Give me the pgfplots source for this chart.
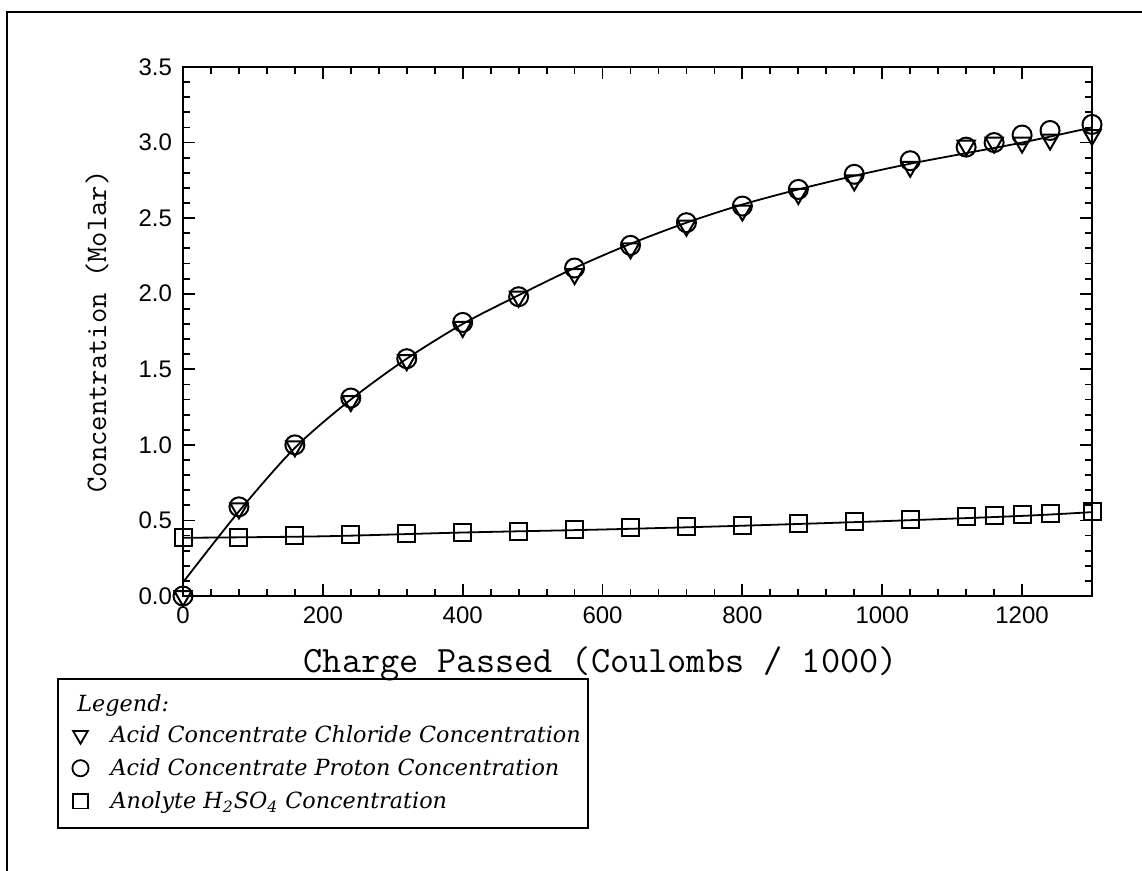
\documentclass[border=0pt]{standalone}
\usepackage{fontspec}
\setmainfont{Liberation Sans}
\newfontfamily\legfont{DejaVu Serif}
\usepackage{pgfplots}
\pgfplotsset{compat=1.18}
\begin{document}
\begin{tikzpicture}
\begin{axis}[
  at={(91.5pt,-298pt)}, anchor=south west,
  scale only axis, width=454.5pt, height=264.5pt,
  xmin=0, xmax=1300, ymin=0, ymax=3.5,
  clip=false,
  axis line style={line width=1.2pt},
  every tick/.style={black, line width=0.9pt},
  tick align=inside,
  major tick length=6pt, minor tick length=3.5pt,
  xtick={0,200,...,1200}, ytick={0,0.5,...,3.5},
  minor x tick num=4, minor y tick num=4,
  tick label style={font=\fontsize{12}{14}\selectfont},
  /pgf/number format/assume math mode=true,
  x tick label style={/pgf/number format/1000 sep={}, yshift=-2pt},
  y tick label style={/pgf/number format/fixed, /pgf/number format/fixed zerofill, /pgf/number format/precision=1, xshift=-2pt},
  every axis x label/.style={at={(rel axis cs:0.4595,-0.1437)}, anchor=base, font=\ttfamily\fontsize{18.6}{21}\selectfont},
  every axis y label/.style={at={(rel axis cs:-0.0946,0.5)}, rotate=90, anchor=center, font=\ttfamily\fontsize{14.9}{17}\selectfont},
  xlabel={Charge Passed (Coulombs / 1000)},
  ylabel={Concentration (Molar)},
  legend style={draw=none, fill=none, inner sep=0pt, row sep=0pt, column sep=0pt,
    font=\legfont\itshape\fontsize{11.15}{13}\selectfont,
    nodes={inner sep=0pt, text height=9.5pt, text depth=7pt, anchor=base west},
    /tikz/every odd column/.append style={column sep=11pt},
    at={(rel axis cs:-0.1221,-0.2401)}, anchor=north west},
  legend cell align=left,
  legend image code/.code={\draw[#1, /tikz/every mark/.append style={scale=0.85, line width=0.9pt}] plot coordinates {(4pt,3.6pt)};},
]
% fit curve for acid concentrate
\addplot[black, line width=0.9pt, smooth, forget plot] coordinates {
(0,0.09) (80,0.56) (160,0.98) (240,1.30) (320,1.57) (400,1.80) (480,1.99) (560,2.17) (640,2.33) (720,2.47) (800,2.59) (880,2.69) (960,2.78) (1040,2.86) (1120,2.93) (1200,3.00) (1300,3.10)};
% fit line for anolyte
\addplot[black, line width=0.9pt, smooth, forget plot] coordinates {
(0,0.385) (200,0.395) (400,0.42) (600,0.44) (800,0.465) (1000,0.495) (1200,0.53) (1300,0.555)};
% chloride (triangles)
\addplot[only marks, mark=triangle, mark size=5pt, mark options={rotate=180, line width=1pt, black, fill=none}] coordinates {
(0,0.0) (80,0.58) (160,0.99) (240,1.29) (320,1.56) (400,1.78) (480,1.98) (560,2.13) (640,2.30) (720,2.45) (800,2.55) (880,2.66) (960,2.75) (1040,2.84) (1120,2.98) (1160,3.00) (1200,3.00) (1240,3.02) (1300,3.05)};
\addlegendentry{Acid Concentrate Chloride Concentration}
% proton (circles)
\addplot[only marks, mark=o, mark size=4.75pt, mark options={line width=1pt, black}] coordinates {
(0,0.0) (80,0.59) (160,1.00) (240,1.31) (320,1.57) (400,1.81) (480,1.98) (560,2.17) (640,2.32) (720,2.47) (800,2.58) (880,2.69) (960,2.79) (1040,2.88) (1120,2.97) (1160,3.00) (1200,3.05) (1240,3.08) (1300,3.12)};
\addlegendentry{Acid Concentrate Proton Concentration}
% anolyte (squares)
\addplot[only marks, mark=square, mark size=4.25pt, mark options={line width=1pt, black}] coordinates {
(0,0.385) (80,0.39) (160,0.40) (240,0.405) (320,0.415) (400,0.42) (480,0.43) (560,0.44) (640,0.45) (720,0.46) (800,0.465) (880,0.48) (960,0.495) (1040,0.505) (1120,0.525) (1160,0.53) (1200,0.54) (1240,0.545) (1300,0.56)};
\addlegendentry{Anolyte H\textsubscript{2}SO\textsubscript{4} Concentration}
% legend frame and title
\draw[line width=1pt] (rel axis cs:-0.1375,-0.1569) rectangle (rel axis cs:0.4455,-0.4386);
\node[anchor=base west, inner sep=0pt, font=\legfont\itshape\fontsize{11.15}{13}\selectfont] at (rel axis cs:-0.1166,-0.2174) {Legend:};
\end{axis}
\draw[line width=1.2pt] (3.5pt,-435.5pt) -- (3.5pt,-6pt) -- (571pt,-6pt);
\pgfresetboundingbox
\path[use as bounding box] (0,0) rectangle (571pt,-435.5pt);
\end{tikzpicture}
\end{document}
